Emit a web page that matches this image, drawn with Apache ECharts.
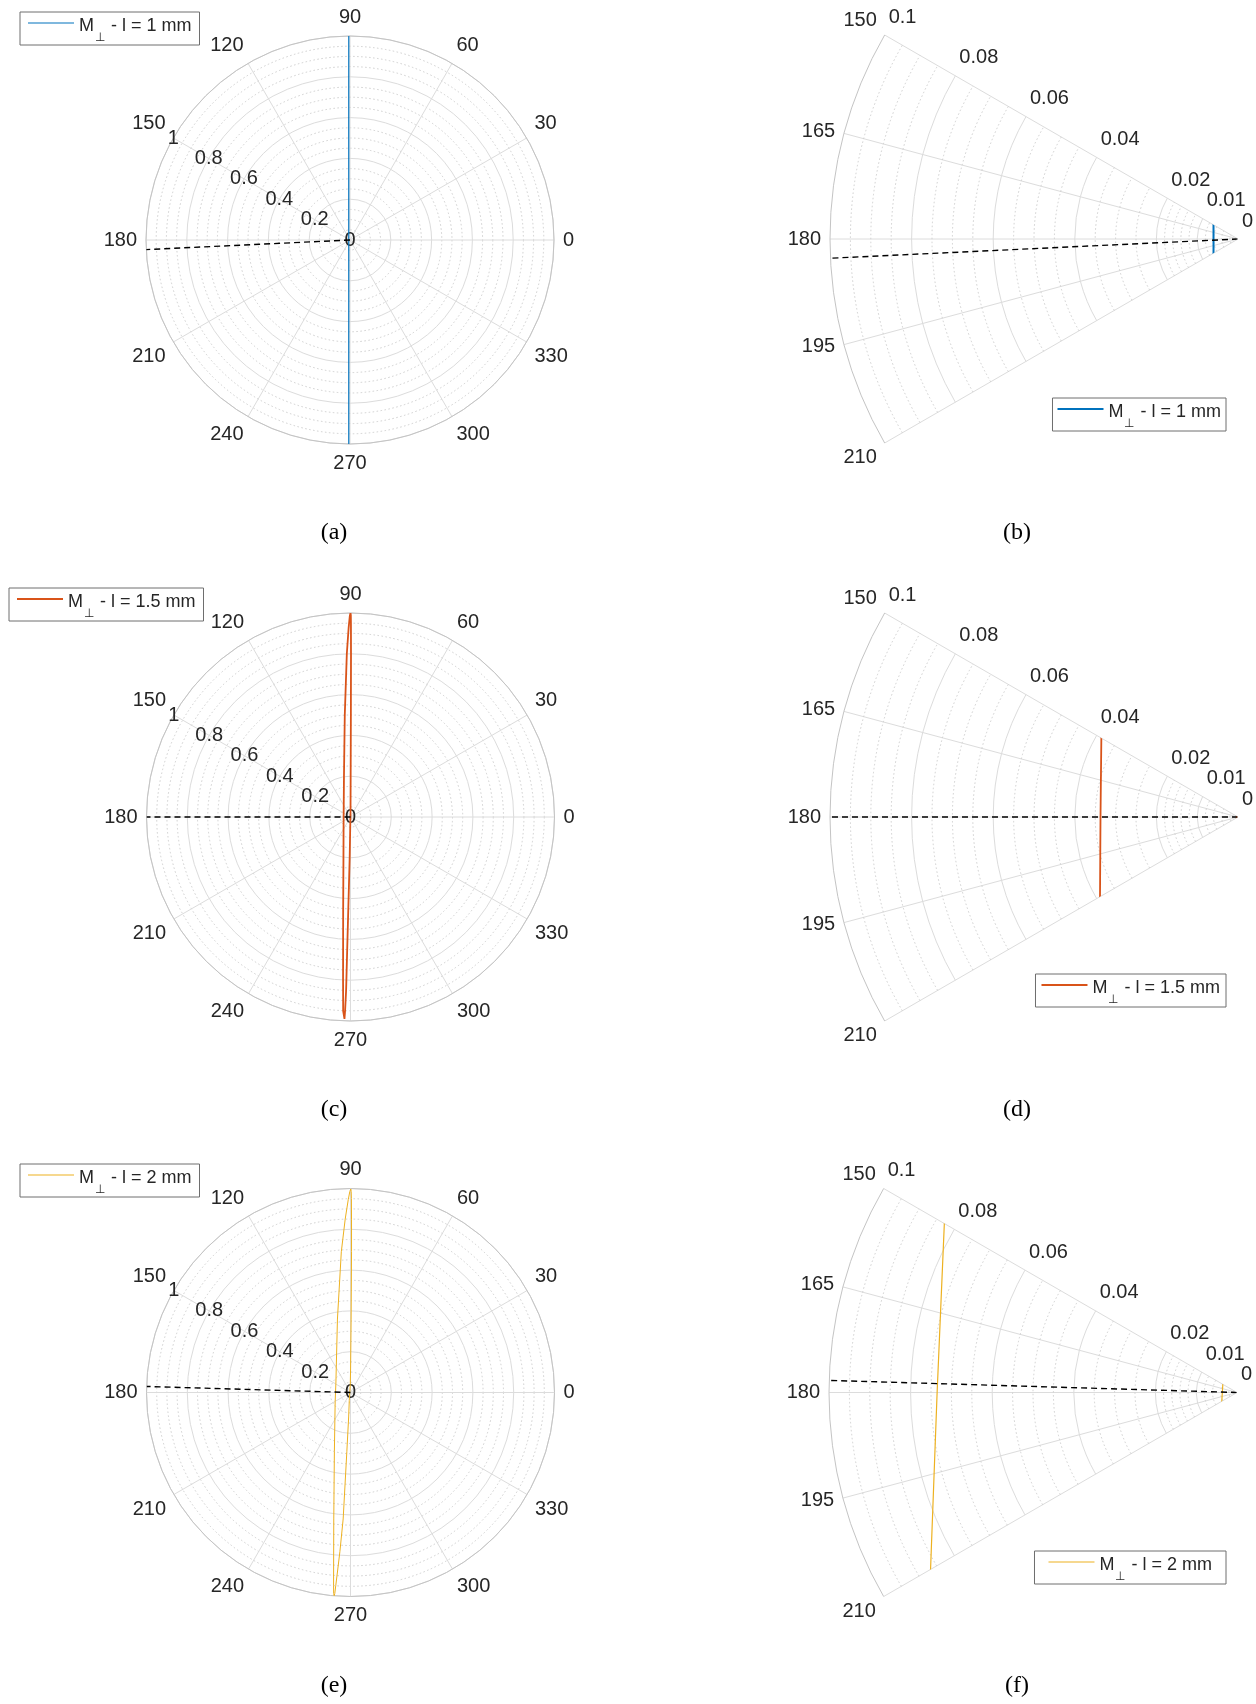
<!DOCTYPE html>
<html>
<head>
<meta charset="utf-8">
<script src="https://cdn.jsdelivr.net/npm/echarts@6/dist/echarts.min.js"></script>
<style>
html,body{margin:0;padding:0;background:#fff;}
#chart{width:1256px;height:1704px;}
</style>
</head>
<body>
<div id="chart"></div>
<script>
// ---------------- data ----------------
const fullRadialTicks = [0, 0.2, 0.4, 0.6, 0.8, 1];
const zoomRadialTicks = [0, 0.01, 0.02, 0.04, 0.06, 0.08, 0.1];
const zoomMajorRings = [0.01, 0.02, 0.04, 0.06, 0.08];
const zoomMinorRings = [0.002, 0.004, 0.006, 0.008, 0.012, 0.014, 0.016, 0.018,
  0.025, 0.03, 0.035, 0.045, 0.05, 0.055, 0.065, 0.07, 0.075, 0.085, 0.09, 0.095];
const fullAngleTicks = [0, 30, 60, 90, 120, 150, 180, 210, 240, 270, 300, 330];
const zoomAngleTicks = [150, 165, 180, 195, 210];
const thicknessLabels = ['1', '1.5', '2'];            // l in mm
const panelTags = ['(a)', '(b)', '(c)', '(d)', '(e)', '(f)'];

// M_perp, l = 1 mm  (radius, angle in degrees)
const curve1mmR     = [1.000, 0.500, 0.100, 0.0209, 0.0060, 0.0209, 0.100, 0.500, 1.000];
const curve1mmTheta = [90.34, 90.69, 93.43, 106.70, 180.00, 253.30, 266.57, 269.31, 269.66];

// M_perp, l = 1.5 mm
const curve15mmR = [1.000, 0.990, 0.950, 0.800, 0.500, 0.200, 0.0200, 0.0003, 0.0200, 0.2000,
  0.4201, 0.6802, 0.8503, 0.9504, 0.9904, 0.9985, 0.9906, 0.9507, 0.8008, 0.4514,
  0.2030, 0.0393, 0.0337, 0.0390, 0.2025, 0.5008, 0.8002, 0.9300, 0.9850, 1.000];
const curve15mmTheta = [90.00, 89.91, 89.87, 89.82, 89.79, 89.77, 89.71, 180.00, 267.71, 268.85,
  268.64, 268.57, 268.55, 268.40, 268.29, 268.16, 268.00, 267.83, 267.39, 265.43,
  260.21, 210.61, 180.00, 149.16, 99.09, 93.21, 91.29, 90.55, 90.20, 90.00];

// M_perp, l = 2 mm
const curve2mmR = [0.998, 0.985, 0.950, 0.850, 0.690, 0.360, 0.120, 0.0400, 0.0036, 0.0405,
  0.1203, 0.2906, 0.6210, 0.7817, 0.8823, 0.9477, 0.9880, 1.000, 0.9885, 0.9486,
  0.6254, 0.3006, 0.0876, 0.0735, 0.0831, 0.3657, 0.6915, 0.8504, 0.9451, 0.9850, 0.998];
const curve2mmTheta = [89.91, 89.80, 89.73, 89.66, 89.58, 89.52, 89.76, 91.43, 180.00, 261.47,
  265.71, 266.45, 266.68, 266.19, 265.84, 265.64, 265.53, 265.41, 265.21, 264.98,
  262.47, 254.76, 210.90, 180.00, 149.64, 100.08, 93.73, 91.75, 90.67, 90.20, 89.91];

// dashed reference direction for each thickness
const refDirTheta = [182.7, 180.0, 178.3];
const refDirR = [0, 1];

// ---------------- styling / layout ----------------
const FONT = "'Liberation Sans', Arial, Helvetica, sans-serif";
const SERIF = "'Liberation Serif', 'Times New Roman', serif";
const LABEL_COLOR = '#262626';
const GRID_MAJOR = '#dcdcdc';
const GRID_MINOR = '#cfcfcf';
const EDGE = '#c4c4c4';
const curveColors = ['#0072BD', '#D95319', '#EDB120'];
const curves = [
  [curve1mmR, curve1mmTheta],
  [curve15mmR, curve15mmTheta],
  [curve2mmR, curve2mmTheta]
];
const R_FULL = 204, R_ZOOM = 408;

const panels = [
  {kind:'full', cx:350,   cy:240,    curve:0, lw:1.2, legend:{left:20, top:12},   padX:8,  tag:[334, 533]},
  {kind:'zoom', cx:1238,  cy:239,    curve:0, lw:2.0, legend:{right:30, top:398}, padX:5,  tag:[1017, 533]},
  {kind:'full', cx:350.5, cy:817,    curve:1, lw:1.8, legend:{left:9, top:588},   padX:8,  tag:[334, 1110]},
  {kind:'zoom', cx:1238,  cy:817,    curve:1, lw:1.8, legend:{right:30, top:974}, padX:6,  tag:[1017, 1110]},
  {kind:'full', cx:350.5, cy:1392.5, curve:2, lw:1.0, legend:{left:20, top:1164}, padX:8,  tag:[334, 1686]},
  {kind:'zoom', cx:1237,  cy:1392.5, curve:2, lw:1.2, legend:{right:30, top:1551},padX:14, tag:[1017, 1686]}
];

const option = {
  animation: false,
  backgroundColor: '#fff',
  polar: [], angleAxis: [], radiusAxis: [], series: [], legend: [], graphic: []
};

function addPolar(center, radius, angleCfg, radiusCfg) {
  const idx = option.polar.length;
  option.polar.push({center: center, radius: radius});
  option.angleAxis.push(Object.assign({polarIndex: idx, type: 'value'}, angleCfg));
  option.radiusAxis.push(Object.assign({polarIndex: idx, type: 'value'}, radiusCfg));
  return idx;
}
const labelText = {color: LABEL_COLOR, fontSize: 20, fontFamily: FONT};
const noAxisBits = {axisLine:{show:false}, axisTick:{show:false}, axisLabel:{show:false}, splitLine:{show:false}};
function isTick(list, v) { return list.some(t => Math.abs(t - v) < 1e-9); }

// rings of a sector panel, drawn as arcs through the polar scale
function ringSeries(polarIndex, rings, dashed) {
  return {
    type: 'custom', coordinateSystem: 'polar', polarIndex: polarIndex, silent: true, z: 1,
    data: rings.map(r => [r, 180]),
    renderItem: function (params, api) {
      const o = api.coord([0, 180]);
      const q = api.coord([api.value(0), 180]);
      const rad = Math.abs(o[0] - q[0]);
      return {
        type: 'arc',
        shape: {cx: o[0], cy: o[1], r: rad, startAngle: Math.PI * 150 / 180, endAngle: Math.PI * 210 / 180, clockwise: true},
        style: {stroke: dashed ? GRID_MINOR : GRID_MAJOR, lineWidth: 1, fill: null, lineDash: dashed ? [1.5, 2.5] : null}
      };
    }
  };
}

panels.forEach((p, k) => {
  let mainIdx;
  if (p.kind === 'full') {
    mainIdx = addPolar([p.cx, p.cy], [0, R_FULL],
      {min: 0, max: 360, interval: 30, startAngle: 0, clockwise: false,
       axisLine:{show:true, lineStyle:{color: EDGE, width: 1}},
       axisTick:{show:false},
       axisLabel:Object.assign({show:true, margin: 9,
         formatter: v => isTick(fullAngleTicks, v) ? String(v) : ''}, labelText),
       splitLine:{show:true, lineStyle:{color: GRID_MAJOR, width: 1}}},
      {min: 0, max: 1, interval: 0.2,
       axisLine:{show:false}, axisTick:{show:false}, axisLabel:{show:false},
       splitLine:{show:true, lineStyle:{color: GRID_MAJOR, width: 1}},
       minorTick:{show:false, splitNumber: 4},
       minorSplitLine:{show:true, lineStyle:{color: GRID_MINOR, width: 1, type: [1.5, 2.5]}}});
    // radial tick labels along the 150 degree direction
    addPolar([p.cx, p.cy], [0, R_FULL],
      {min: 0, max: 360, startAngle: 150, clockwise: false, show: false},
      Object.assign({}, noAxisBits, {min: 0, max: 1, interval: 0.2,
        axisLabel: Object.assign({show:true, margin: 0, align: 'center', verticalAlign: 'middle',
          formatter: v => isTick(fullRadialTicks, v) ? String(v) : ''}, labelText)}));
  } else {
    const sectorAngle = {min: 150, max: 210, interval: 15, startAngle: 150, endAngle: 210, clockwise: false};
    mainIdx = addPolar([p.cx, p.cy], [0, R_ZOOM],
      Object.assign({}, sectorAngle, {
        axisLine:{show:true, lineStyle:{color: EDGE, width: 1}},
        axisTick:{show:false},
        axisLabel:Object.assign({show:true, margin: 9,
          formatter: v => isTick(zoomAngleTicks, v) ? String(v) : ''}, labelText),
        splitLine:{show:true, lineStyle:{color: GRID_MAJOR, width: 1}}}),
      Object.assign({}, noAxisBits, {min: 0, max: 0.1}));
    // radial tick labels along the 150 degree edge
    addPolar([p.cx - 4.8, p.cy - 2.75], [0, R_ZOOM],
      Object.assign({}, sectorAngle, {show: false}),
      Object.assign({}, noAxisBits, {min: 0, max: 0.1, interval: 0.01,
        axisLabel: Object.assign({show:true, margin: -17.6, align: 'left', verticalAlign: 'middle',
          formatter: v => isTick(zoomRadialTicks, v) ? String(+v.toFixed(4)) : ''}, labelText)}));
    option.series.push(ringSeries(mainIdx, zoomMinorRings, true));
    option.series.push(ringSeries(mainIdx, zoomMajorRings, false));
  }

  const c = curves[p.curve];
  const name = 'curve-' + k;
  option.series.push({
    type: 'line', name: name, coordinateSystem: 'polar', polarIndex: mainIdx,
    data: c[0].map((r, i) => [r, c[1][i]]),
    symbol: 'none', showSymbol: false, silent: true, z: 3,
    lineStyle: {color: curveColors[p.curve], width: p.lw},
    itemStyle: {color: curveColors[p.curve]}
  });
  option.series.push({
    type: 'line', name: 'ref-' + k, coordinateSystem: 'polar', polarIndex: mainIdx,
    data: refDirR.map(r => [r, refDirTheta[p.curve]]),
    symbol: 'none', showSymbol: false, silent: true, z: 4,
    lineStyle: {color: '#000', width: 1.4, type: [6, 4]},
    itemStyle: {color: '#000'}
  });

  const thick = thicknessLabels[p.curve];
  option.legend.push(Object.assign({
    data: [{name: name, icon: 'rect'}], orient: 'horizontal', selectedMode: false,
    itemWidth: 46, itemHeight: p.lw >= 1.5 ? 2 : 1, itemGap: 0,
    padding: [1, p.padX, 1, p.padX],
    borderColor: '#6e6e6e', borderWidth: 1, backgroundColor: '#fff',
    formatter: () => '{m|M}{s|\u22A5}{t| - l = ' + thick + ' mm}',
    textStyle: {
      color: LABEL_COLOR, fontFamily: FONT, fontSize: 18,
      rich: {
        m: {fontSize: 18, fontFamily: FONT, color: LABEL_COLOR, lineHeight: 20, verticalAlign: 'top', padding: [4, 0, 0, 0]},
        s: {fontSize: 12, fontFamily: FONT, color: LABEL_COLOR, lineHeight: 12, verticalAlign: 'top', padding: [19, 1, 0, 1]},
        t: {fontSize: 18, fontFamily: FONT, color: LABEL_COLOR, lineHeight: 20, verticalAlign: 'top', padding: [4, 0, 0, 0]}
      }
    }
  }, p.legend));

  option.graphic.push({
    type: 'text', x: p.tag[0], y: p.tag[1], silent: true,
    style: {text: panelTags[k], fill: '#000', font: '24px ' + SERIF,
            align: 'center', verticalAlign: 'middle'}
  });
});

const chart = echarts.init(document.getElementById('chart'), null, {renderer: 'canvas'});
chart.setOption(option);
</script>
</body>
</html>
